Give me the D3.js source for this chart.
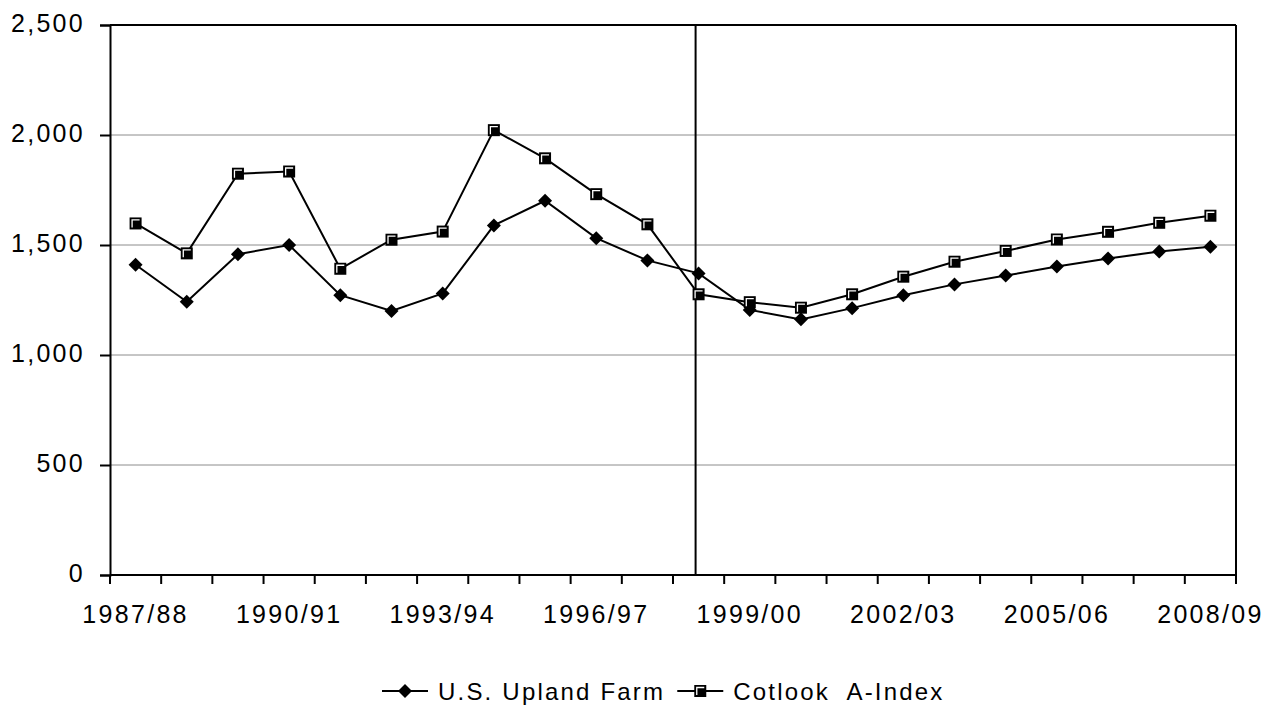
<!DOCTYPE html>
<html>
<head>
<meta charset="utf-8">
<script src="https://cdn.jsdelivr.net/npm/d3@7"></script>
<style>
  html, body { margin: 0; padding: 0; background: #fff; }
  svg { display: block; }
  text { font-family: "Liberation Sans", Arial, sans-serif; fill: #000; }
</style>
</head>
<body>
<svg id="chart" width="1280" height="707"></svg>
<script>
const categories = ["1987/88","1988/89","1989/90","1990/91","1991/92","1992/93","1993/94","1994/95","1995/96","1996/97","1997/98","1998/99","1999/00","2000/01","2001/02","2002/03","2003/04","2004/05","2005/06","2006/07","2007/08","2008/09"];
const uplandFarm = [1410,1242,1458,1500,1272,1200,1280,1589,1701,1531,1430,1371,1205,1162,1213,1272,1321,1361,1402,1439,1470,1492];
const cotlookA = [1598,1462,1824,1834,1392,1524,1561,2022,1894,1731,1594,1276,1240,1215,1276,1356,1424,1473,1525,1560,1601,1633];
const yTicks = [0,500,1000,1500,2000,2500];
const xTickLabels = ["1987/88","1990/91","1993/94","1996/97","1999/00","2002/03","2005/06","2008/09"];
const dividerCategory = "1998/99";
const seriesNames = ["U.S. Upland Farm", "Cotlook  A-Index"];

const FS = 25, LS = 2.3;
const svg = d3.select("#chart");
const pLeft = 110, pRight = 1236, pTop = 25, pBottom = 575;

const x = d3.scaleBand().domain(categories).range([pLeft, pRight]).padding(0);
const y = d3.scaleLinear().domain([0, 2500]).range([pBottom, pTop]);
const cx = d => x(d) + x.bandwidth() / 2;

// gridlines
svg.append("g").selectAll("line").data(yTicks.filter(t => t > 0 && t < 2500)).join("line")
  .attr("x1", pLeft).attr("x2", pRight)
  .attr("y1", d => y(d)).attr("y2", d => y(d))
  .attr("stroke", "#8c8c8c").attr("stroke-width", 1);

// frame: top and right
svg.append("line").attr("x1", pLeft).attr("x2", pRight).attr("y1", y(2500)).attr("y2", y(2500))
  .attr("stroke", "#000").attr("stroke-width", 2);
svg.append("line").attr("x1", pRight).attr("x2", pRight).attr("y1", pTop).attr("y2", pBottom)
  .attr("stroke", "#000").attr("stroke-width", 2);

// y axis
const yAxis = d3.axisLeft(y).tickValues(yTicks).tickFormat(d3.format(",")).tickSize(10).tickPadding(15);
const gy = svg.append("g").attr("transform", `translate(${pLeft},0)`).call(yAxis);
gy.select(".domain").attr("stroke", "#000").attr("stroke-width", 2);
gy.selectAll(".tick line").attr("stroke", "#000").attr("stroke-width", 2);
gy.selectAll(".tick text").attr("font-size", FS).attr("letter-spacing", LS).attr("dy", "0.25em")
  .attr("font-family", "Liberation Sans, Arial, sans-serif").attr("fill", "#000");

// x axis: ticks at category boundaries
const boundaries = categories.map(c => x(c)).concat([pRight]);
const gx = svg.append("g");
gx.append("line").attr("x1", pLeft).attr("x2", pRight).attr("y1", pBottom).attr("y2", pBottom)
  .attr("stroke", "#000").attr("stroke-width", 2);
gx.selectAll("line.tk").data(boundaries).join("line").attr("class", "tk")
  .attr("x1", d => d).attr("x2", d => d).attr("y1", pBottom).attr("y2", pBottom + 9)
  .attr("stroke", "#000").attr("stroke-width", 2);
gx.selectAll("text").data(xTickLabels).join("text")
  .attr("x", d => cx(d)).attr("y", 623)
  .attr("text-anchor", "middle").attr("font-size", FS).attr("letter-spacing", LS)
  .text(d => d);

// vertical divider
svg.append("line")
  .attr("x1", cx(dividerCategory) - 3).attr("x2", cx(dividerCategory) - 3)
  .attr("y1", pTop).attr("y2", pBottom)
  .attr("stroke", "#000").attr("stroke-width", 2);

const line = d3.line().x((d, i) => cx(categories[i])).y(d => y(d));

function drawDiamond(g, px, py) {
  const s = 7;
  g.append("path").attr("d", `M${px},${py - s}L${px + s},${py}L${px},${py + s}L${px - s},${py}Z`)
    .attr("fill", "#000");
}
function drawSquare(g, px, py) {
  const s = 6;
  g.append("rect").attr("x", px - s).attr("y", py - s).attr("width", 2 * s).attr("height", 2 * s)
    .attr("fill", "#000");
  g.append("path").attr("d", `M${px - s + 2.5},${py + s - 2}L${px - s + 2.5},${py - s + 2.5}L${px + s - 2},${py - s + 2.5}`)
    .attr("fill", "none").attr("stroke", "#fff").attr("stroke-width", 1.3);
}

// series lines
svg.append("path").datum(uplandFarm).attr("d", line).attr("fill", "none").attr("stroke", "#000").attr("stroke-width", 2);
svg.append("path").datum(cotlookA).attr("d", line).attr("fill", "none").attr("stroke", "#000").attr("stroke-width", 2);

const mk1 = svg.append("g");
uplandFarm.forEach((v, i) => drawDiamond(mk1, cx(categories[i]), y(v)));
const mk2 = svg.append("g");
cotlookA.forEach((v, i) => drawSquare(mk2, cx(categories[i]), y(v)));

// legend
const leg = svg.append("g");
const ly = 691;
let lx = 382;
[0, 1].forEach(k => {
  leg.append("line").attr("x1", lx).attr("x2", lx + 46).attr("y1", ly).attr("y2", ly)
    .attr("stroke", "#000").attr("stroke-width", 2);
  if (k === 0) drawDiamond(leg, lx + 23, ly); else drawSquare(leg, lx + 23, ly);
  const t = leg.append("text").attr("x", lx + 56).attr("y", ly + 9)
    .attr("font-size", 24).attr("letter-spacing", 2.2).style("white-space", "pre")
    .text(seriesNames[k]);
  lx = lx + 56 + t.node().getComputedTextLength() + 12;
});
</script>
</body>
</html>
